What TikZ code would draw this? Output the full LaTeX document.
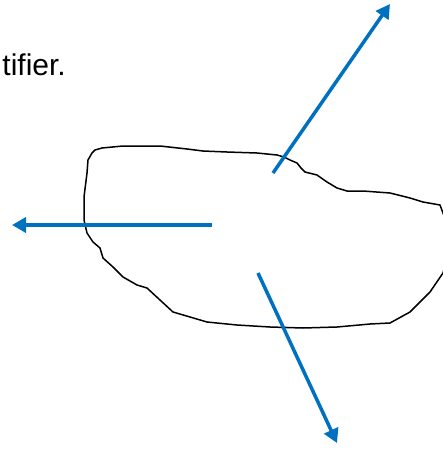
\documentclass[tikz,border=0pt]{standalone}
\usepackage{fontspec}
\setmainfont{Liberation Sans}
\usetikzlibrary{arrows.meta}
\definecolor{arrowblue}{HTML}{0070C0}
\tikzset{
  bluearrow/.style={draw=arrowblue, line width=3.5pt, -{Triangle[length=14pt,width=15pt]}},
  blob/.style={draw=black, line width=1.5pt, line join=round},
  lbl/.style={font=\fontsize{30}{34}\selectfont, inner sep=0pt, text=black}
}
\begin{document}
\begin{tikzpicture}[x=1pt,y=-1pt]
\useasboundingbox (0,0) rectangle (443,450);
\clip (0,0) rectangle (443,450);
\node[lbl, anchor=base east] (txt) at (66,75) {tifier.};
\draw[blob] (92,153) -- (95,150) -- (102,148) -- (123,146) -- (160,146) -- (187,149) -- (203,151) -- (227,152) -- (257,153) -- (277,155) -- (284,157) -- (290,160) -- (297,163) -- (301,168) -- (305,172) -- (317,175) -- (327,182) -- (337,188) -- (347,191) -- (363,191) -- (390,193) -- (410,198) -- (423,202) -- (440,205) -- (443,213) -- (452,240) -- (443,273) -- (430,292) -- (410,312) -- (390,323) -- (370,324) -- (337,327) -- (303,328) -- (270,327) -- (237,325) -- (207,322) -- (173,312) -- (160,300) -- (147,288) -- (137,285) -- (123,277) -- (113,267) -- (103,258) -- (100,248) -- (93,242) -- (87,233) -- (84,220) -- (84,197) -- (87,173) -- (88,160) -- cycle;
\coordinate (lstart) at (212,225);
\coordinate (lend) at (12,225);
\coordinate (ustart) at (273,173);
\coordinate (uend) at (390,4);
\coordinate (dstart) at (258,273);
\coordinate (dend) at (337,443);
\draw[bluearrow] (lstart) -- (lend);
\draw[bluearrow] (ustart) -- (uend);
\draw[bluearrow] (dstart) -- (dend);
\end{tikzpicture}
\end{document}
